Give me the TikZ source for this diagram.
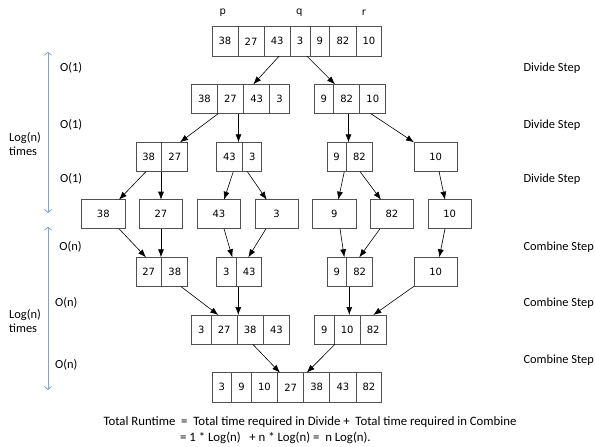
\documentclass[tikz,border=0pt]{standalone}
\usepackage{fontspec}
\setmainfont{Carlito}
\newfontfamily\numfont{DejaVu Sans}
\usetikzlibrary{shapes.multipart,arrows.meta}
\definecolor{boxgray}{RGB}{80,80,80}
\definecolor{spanblue}{RGB}{125,165,205}
\begin{document}
\begin{tikzpicture}[x=1pt,y=-1pt,
  cells/.style={rectangle split, rectangle split horizontal, rectangle split parts=#1,
    draw=boxgray, line width=0.8pt, inner xsep=6.3pt, inner ysep=10.85pt,
    outer sep=0pt, anchor=north west, font=\numfont\fontsize{10}{12}\selectfont},
  single/.style={draw=boxgray, line width=0.8pt, minimum width=43.3pt, minimum height=29pt,
    inner sep=0pt, outer sep=0pt, anchor=north west, font=\numfont\fontsize{10}{12}\selectfont},
  arr/.style={-{Latex[length=8pt,width=6pt]}, line width=0.6pt},
  span/.style={{Straight Barb[length=3pt,width=7pt]}-{Straight Barb[length=3pt,width=7pt]}, draw=spanblue, line width=0.8pt},
  lbl/.style={anchor=west, inner sep=0pt, font=\fontsize{12.4}{14}\selectfont},
  totl/.style={anchor=west, inner sep=0pt, font=\fontsize{12.8}{14}\selectfont},
  idx/.style={inner sep=0pt, font=\numfont\fontsize{10}{12}\selectfont}]
\useasboundingbox (0,0) rectangle (595,447);

% index labels
\node[idx] (p) at (222.7,12.7) {p};
\node[idx] (q) at (299.3,12.7) {q};
\node[idx] (r) at (364,12.7) {r};

% divide phase
\node[cells=7] (a0) at (212.3,26.7) {38\nodepart{two}27\nodepart{three}43\nodepart{four}3\nodepart{five}9\nodepart{six}82\nodepart{seven}10};
\node[cells=4] (l1a) at (191.7,84.3) {38\nodepart{two}27\nodepart{three}43\nodepart{four}3};
\node[cells=3] (l1b) at (314.3,84.3) {9\nodepart{two}82\nodepart{three}10};
\node[cells=2] (l2a) at (136,142.3) {38\nodepart{two}27};
\node[cells=2] (l2b) at (216.7,142.3) {43\nodepart{two}3};
\node[cells=2] (l2c) at (327,142.3) {9\nodepart{two}82};
\node[single] (l2d) at (414,142.3) {10};
\node[single] (s1) at (81.7,199.7) {38};
\node[single] (s2) at (139.3,199.7) {27};
\node[single] (s3) at (197.3,199.7) {43};
\node[single] (s4) at (255,199.7) {3};
\node[single] (s5) at (312.7,199.7) {9};
\node[single] (s6) at (370.3,199.7) {82};
\node[single] (s7) at (428,199.7) {10};

% combine phase
\node[cells=2] (m1a) at (136,257.3) {27\nodepart{two}38};
\node[cells=2] (m1b) at (216.7,257.3) {3\nodepart{two}43};
\node[cells=2] (m1c) at (327.3,257.3) {9\nodepart{two}82};
\node[single] (m1d) at (414,257.3) {10};
\node[cells=4] (m2a) at (191.7,315) {3\nodepart{two}27\nodepart{three}38\nodepart{four}43};
\node[cells=3] (m2b) at (314.7,315) {9\nodepart{two}10\nodepart{three}82};
\node[cells=7] (m3) at (212.3,372.7) {3\nodepart{two}9\nodepart{three}10\nodepart{four}27\nodepart{five}38\nodepart{six}43\nodepart{seven}82};

% divide arrows
\draw[arr] ([xshift=67pt]a0.south west) -- ([xshift=61.6pt]l1a.north west);
\draw[arr] ([xshift=94.4pt]a0.south west) -- ([xshift=20.7pt]l1b.north west);
\draw[arr] ([xshift=26.6pt]l1a.south west) -- ([xshift=44pt]l2a.north west);
\draw[arr] ([xshift=46.8pt]l1a.south west) -- ([xshift=21.8pt]l2b.north west);
\draw[arr] ([xshift=34.2pt]l1b.south west) -- ([xshift=21.5pt]l2c.north west);
\draw[arr] ([xshift=56.4pt]l1b.south west) -- (l2d.north west);
\draw[arr] ([xshift=10pt]l2a.south west) -- ([xshift=37.3pt]s1.north west);
\draw[arr] ([xshift=25pt]l2a.south west) -- ([xshift=21.7pt]s2.north west);
\draw[arr] ([xshift=16.6pt]l2b.south west) -- ([xshift=26.7pt]s3.north west);
\draw[arr] ([xshift=30.6pt]l2b.south west) -- ([xshift=11.7pt]s4.north west);
\draw[arr] ([xshift=17.3pt]l2c.south west) -- ([xshift=25.6pt]s5.north west);
\draw[arr] ([xshift=33pt]l2c.south west) -- ([xshift=10.7pt]s6.north west);
\draw[arr] ([xshift=25pt]l2d.south west) -- ([xshift=17pt]s7.north west);

% combine arrows
\draw[arr] ([xshift=37.3pt]s1.south west) -- ([xshift=10pt]m1a.north west);
\draw[arr] ([xshift=21.7pt]s2.south west) -- ([xshift=25pt]m1a.north west);
\draw[arr] ([xshift=26.7pt]s3.south west) -- ([xshift=15.6pt]m1b.north west);
\draw[arr] ([xshift=11pt]s4.south west) -- ([xshift=31.6pt]m1b.north west);
\draw[arr] ([xshift=27.3pt]s5.south west) -- ([xshift=17pt]m1c.north west);
\draw[arr] ([xshift=9.7pt]s6.south west) -- ([xshift=32pt]m1c.north west);
\draw[arr] ([xshift=17pt]s7.south west) -- ([xshift=25.3pt]m1d.north west);
\draw[arr] ([xshift=45pt]m1a.south west) -- ([xshift=26.6pt]m2a.north west);
\draw[arr] ([xshift=21.6pt]m1b.south west) -- ([xshift=46.6pt]m2a.north west);
\draw[arr] ([xshift=22pt]m1c.south west) -- ([xshift=34.6pt]m2b.north west);
\draw[arr] (m1d.south west) -- ([xshift=58.6pt]m2b.north west);
\draw[arr] ([xshift=61pt]m2a.south west) -- ([xshift=67.7pt]m3.north west);
\draw[arr] ([xshift=20.3pt]m2b.south west) -- ([xshift=94.4pt]m3.north west);

% span markers on the left
\coordinate (d1) at (48,51.7);
\coordinate (d2) at (48,213);
\coordinate (c1) at (48,226.7);
\coordinate (c2) at (48,390);
\draw[span] (d1) -- (d2);
\draw[span] (c1) -- (c2);
\node[lbl, align=left, anchor=west] (logd) at (9,144) {Log(n)\\times};
\node[lbl, align=left, anchor=west] (logc) at (9,321.5) {Log(n)\\times};

% per-level costs
\node[lbl] (o1) at (60,68.3) {O(1)};
\node[lbl] (o2) at (60,125) {O(1)};
\node[lbl] (o3) at (60,179.3) {O(1)};
\node[lbl] (n1) at (59.3,246.7) {O(n)};
\node[lbl] (n2) at (55,303.3) {O(n)};
\node[lbl] (n3) at (55,365) {O(n)};

% step names
\node[lbl] (st1) at (523.3,68.3) {Divide Step};
\node[lbl] (st2) at (523.3,125) {Divide Step};
\node[lbl] (st3) at (523.3,179.3) {Divide Step};
\node[lbl] (st4) at (523.3,246.7) {Combine Step};
\node[lbl] (st5) at (523.3,303.3) {Combine Step};
\node[lbl] (st6) at (523.3,360) {Combine Step};

% total
\node[totl] (tot1) at (103.3,421.7) {Total Runtime\ \ =\ \ Total time required in Divide +\ \ Total time required in Combine};
\node[totl] (tot2) at (180,438.3) {= 1 * Log(n)\ \ \ + n * Log(n) =\ \ n Log(n).};
\end{tikzpicture}
\end{document}
